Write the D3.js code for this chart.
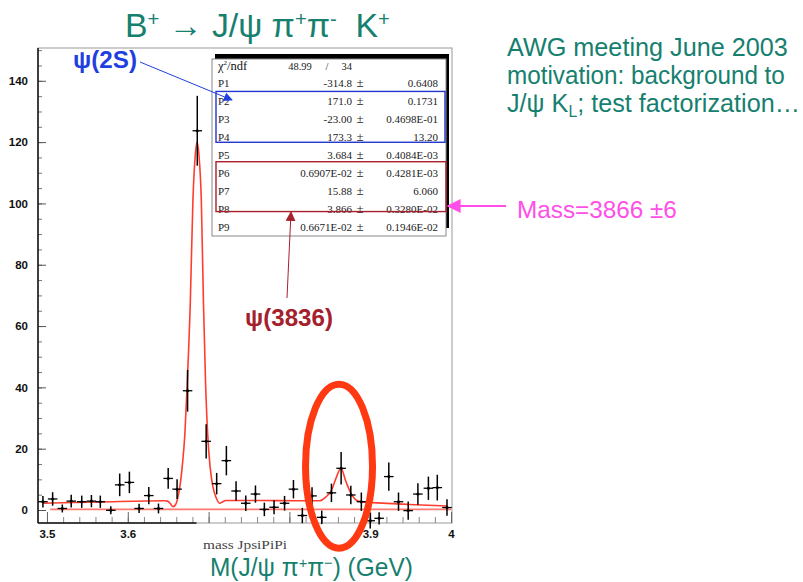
<!DOCTYPE html>
<html>
<head>
<meta charset="utf-8">
<script src="https://cdn.jsdelivr.net/npm/d3@7"></script>
<style>
body { margin: 0; background: #fff; }
svg { display: block; }
</style>
</head>
<body>
<div id="chart"></div>
<script>
// histogram: bin centre (GeV), entries, error
const massBins = [3.495, 3.507, 3.519, 3.530, 3.543, 3.555, 3.566, 3.579, 3.590, 3.602,
  3.614, 3.626, 3.638, 3.650, 3.661, 3.674, 3.686, 3.697, 3.710, 3.722,
  3.734, 3.746, 3.758, 3.769, 3.781, 3.794, 3.805, 3.816, 3.828, 3.840,
  3.852, 3.864, 3.876, 3.889, 3.900, 3.911, 3.923, 3.935, 3.947, 3.959,
  3.972, 3.983, 3.995];
const counts = [2.7, 3.6, 0.5, 2.9, 2.7, 2.9, 2.7, -0.1, 8.2, 9.0,
  0.5, 4.7, 0.5, 10.3, 6.8, 38.9, 123.7, 22.4, 8.6, 16.1,
  6.2, 2.2, 5.2, 0.2, 0.9, 2.2, 6.8, -1.8, 4.6, -2.4,
  5.6, 13.6, 4.9, 2.7, -3.5, -2.7, 10.9, 2.7, -0.2, 5.2,
  7.1, 7.3, 0.8];
const errors = [1.9, 2.2, 1.3, 2.1, 2.0, 2.0, 2.0, 1.3, 3.7, 3.5,
  1.5, 2.8, 1.6, 3.4, 3.2, 6.8, 11.4, 5.6, 3.5, 4.8,
  3.2, 2.5, 2.8, 2.2, 2.3, 2.4, 3.0, 2.5, 2.8, 2.2,
  3.0, 5.3, 3.0, 3.0, 2.5, 2.0, 4.6, 3.0, 3.0, 3.5,
  3.8, 4.2, 2.7];

// fitted curve
const fitMass = [3.4954, 3.565, 3.6457, 3.6494, 3.653, 3.6559, 3.6593, 3.6627, 3.6652, 3.6673,
  3.6707, 3.6735, 3.6774, 3.6806, 3.6833, 3.6858, 3.6883, 3.6910, 3.6936, 3.6963,
  3.6988, 3.7019, 3.7053, 3.7095, 3.7136, 3.7177, 3.721, 3.763, 3.8123, 3.837,
  3.8453, 3.8522, 3.8577, 3.8638, 3.870, 3.8762, 3.8823, 3.8905, 3.9028, 3.9481, 3.9954];
const fitValue = [2.2, 2.6, 3.0, 2.9, 2.0, 1.1, 1.8, 5, 9, 14,
  25, 41, 68, 101, 115, 120, 115, 101, 68, 41,
  25, 14, 7.6, 3.9, 2.2, 2.7, 3.1, 3.1, 3.0, 3.0,
  4.3, 6.5, 10.4, 13.6, 9.2, 5.4, 3.3, 2.6, 2.4, 1.8, 1.3];
const bkgMass = [3.504, 4.0];
const bkgValue = [0.23, 0.23];

const yMajorTicks = [0, 20, 40, 60, 80, 100, 120, 140];
const xMajorTicks = [3.5, 3.6, 3.7, 3.8, 3.9, 4.0];
const xTickLabels = {3.5: '3.5', 3.6: '3.6', 3.9: '3.9', 4: '4'};

// stats box
const statNames = ['P1', 'P2', 'P3', 'P4', 'P5', 'P6', 'P7', 'P8', 'P9'];
const statValues = ['-314.8', '171.0', '-23.00', '173.3', '3.684', '0.6907E-02', '15.88', '3.866', '0.6671E-02'];
const statErrors = ['0.6408', '0.1731', '0.4698E-01', '13.20', '0.4084E-03', '0.4281E-03', '6.060', '0.3280E-02', '0.1946E-02'];
const chi2 = '48.99', ndf = '34';

const width = 803, height = 582;
const teal = '#16806f';

const svg = d3.select('#chart')
.append('svg')
.attr('width', width)
.attr('height', height);

const defs = svg.append('defs');
function marker(id, color, size) {
	defs.append('marker')
	.attr('id', id)
	.attr('viewBox', '0 0 10 10')
	.attr('refX', 9).attr('refY', 5)
	.attr('markerUnits', 'userSpaceOnUse')
	.attr('markerWidth', size).attr('markerHeight', size)
	.attr('orient', 'auto')
	.append('path')
	.attr('d', 'M0,0L10,5L0,10z')
	.attr('fill', color);
}
marker('arBlue', '#2040e0', 9);
marker('arRed', '#a8202e', 10);
marker('arPink', '#ff4fe8', 14);

const x = d3.scaleLinear().domain([3.4889, 4.0012]).range([38, 452]);
const y = d3.scaleLinear().domain([-4.24, 150.7]).range([523, 48]);

// frame
svg.append('rect')
.attr('x', x.range()[0]).attr('y', y.range()[1])
.attr('width', x.range()[1] - x.range()[0])
.attr('height', y.range()[0] - y.range()[1])
.attr('fill', 'none').attr('stroke', '#999').attr('stroke-width', 1);

// y axis
svg.append('g')
.attr('transform', `translate(${x.range()[0]},0)`)
.call(d3.axisLeft(y).tickValues(d3.range(0, 151, 5)).tickSize(-4).tickFormat(''))
.call(g => g.select('.domain').remove())
.call(g => g.selectAll('line').attr('stroke', '#777'));

svg.append('g')
.attr('transform', `translate(${x.range()[0]},0)`)
.call(d3.axisLeft(y).tickValues(yMajorTicks).tickSize(-8).tickPadding(10))
.call(g => g.select('.domain').remove())
.call(g => g.selectAll('line').attr('stroke', '#555'))
.call(g => g.selectAll('text')
	.attr('font-family', 'Liberation Sans, Arial, sans-serif')
	.attr('font-weight', 'bold').attr('font-size', 11.5).attr('fill', '#111'));

// x axis
svg.append('g')
.attr('transform', `translate(0,${y.range()[0]})`)
.call(d3.axisBottom(x).tickValues(d3.range(3.5, 4.001, 0.02)).tickSize(-6).tickFormat(''))
.call(g => g.select('.domain').remove())
.call(g => g.selectAll('line').attr('stroke', '#888'));

svg.append('g')
.attr('transform', `translate(0,${y.range()[0]})`)
.call(d3.axisBottom(x).tickValues(xMajorTicks).tickSize(-11).tickPadding(7)
	.tickFormat(d => xTickLabels[+d.toFixed(1)] || ''))
.call(g => g.select('.domain').remove())
.call(g => g.selectAll('line').attr('stroke', '#666'))
.call(g => g.selectAll('text')
	.attr('font-family', 'Liberation Sans, Arial, sans-serif')
	.attr('font-weight', 'bold').attr('font-size', 11.5).attr('fill', '#111'));

// axis lines
svg.append('line')
.attr('x1', x.range()[0]).attr('x2', x.range()[0])
.attr('y1', y.range()[1]).attr('y2', y.range()[0])
.attr('stroke', '#111').attr('stroke-width', 1.5);
svg.append('line')
.attr('x1', x.range()[0]).attr('x2', x(3.685))
.attr('y1', y.range()[0]).attr('y2', y.range()[0])
.attr('stroke', '#111').attr('stroke-width', 1.6);

// background and fit curves
const line = d3.line().curve(d3.curveMonotoneX).x(d => x(d[0])).y(d => y(d[1]));

svg.append('path')
.attr('d', line(bkgMass.map((m, i) => [m, bkgValue[i]])))
.attr('fill', 'none').attr('stroke', '#ff7b70').attr('stroke-width', 1.8);

svg.append('path')
.attr('d', line(fitMass.map((m, i) => [m, fitValue[i]])))
.attr('fill', 'none').attr('stroke', '#ff3d2e').attr('stroke-width', 1.6);

// data points
const halfBin = 0.0059;
const pts = svg.append('g').attr('stroke', '#000');
massBins.forEach((m, i) => {
	pts.append('line')
	.attr('x1', x(m)).attr('x2', x(m))
	.attr('y1', y(counts[i] - errors[i])).attr('y2', y(counts[i] + errors[i]))
	.attr('stroke-width', 1.5);
	pts.append('line')
	.attr('x1', x(m - halfBin)).attr('x2', x(m + halfBin))
	.attr('y1', y(counts[i])).attr('y2', y(counts[i]))
	.attr('stroke-width', 1.3);
	pts.append('circle')
	.attr('cx', x(m)).attr('cy', y(counts[i])).attr('r', 1.5)
	.attr('fill', '#000').attr('stroke', 'none');
});

// stats box
const box = svg.append('g');
box.append('rect').attr('x', 215).attr('y', 54).attr('width', 234).attr('height', 174).attr('fill', '#000');
box.append('rect').attr('x', 212).attr('y', 59).attr('width', 234).attr('height', 177)
.attr('fill', '#fff').attr('stroke', '#888').attr('stroke-width', 1);

const rowY = d3.scaleLinear().domain([0, 9]).range([69.5, 231]);
const serif = 'Liberation Serif, Times New Roman, serif';

const chiT = box.append('text').attr('x', 218).attr('y', rowY(0))
.attr('font-family', serif).attr('font-size', 12.5).attr('fill', '#111');
chiT.append('tspan').text('χ');
chiT.append('tspan').attr('font-size', 7).attr('dy', -5).text('2');
chiT.append('tspan').attr('dy', 5).text('/ndf');
box.append('text').attr('x', 300).attr('y', rowY(0)).attr('text-anchor', 'middle')
.attr('font-family', serif).attr('font-size', 10.5).attr('fill', '#222').text(chi2);
box.append('text').attr('x', 327).attr('y', rowY(0)).attr('text-anchor', 'middle')
.attr('font-family', serif).attr('font-size', 10.5).attr('fill', '#222').text('/');
box.append('text').attr('x', 352).attr('y', rowY(0)).attr('text-anchor', 'end')
.attr('font-family', serif).attr('font-size', 10.5).attr('fill', '#222').text(ndf);

statNames.forEach((n, i) => {
	const g = box.append('g').attr('font-family', serif).attr('font-size', 11).attr('fill', '#222');
	g.append('text').attr('x', 218).attr('y', rowY(i + 1)).text(n);
	g.append('text').attr('x', 352).attr('y', rowY(i + 1)).attr('text-anchor', 'end').text(statValues[i]);
	g.append('text').attr('x', 360).attr('y', rowY(i + 1)).attr('text-anchor', 'middle').attr('font-size', 13).text('±');
	g.append('text').attr('x', 438).attr('y', rowY(i + 1)).attr('text-anchor', 'end').text(statErrors[i]);
});

box.append('rect')
.attr('x', 216).attr('y', rowY(1) + 4).attr('width', 229).attr('height', rowY(4) - rowY(1) - 3)
.attr('fill', 'none').attr('stroke', '#2236d0').attr('stroke-width', 1.4);
box.append('rect')
.attr('x', 216).attr('y', rowY(5) + 2.5).attr('width', 230).attr('height', rowY(8) - rowY(5) - 4)
.attr('fill', 'none').attr('stroke', '#a8202e').attr('stroke-width', 1.4);

// text helper: parts are [string, 'sup' | 'sub' | null]
function label(xp, yp, w, parts, size, color, extra) {
	const t = svg.append('text')
	.attr('x', 0).attr('y', 0)
	.attr('font-family', 'Liberation Sans, Arial, sans-serif')
	.attr('font-size', size).attr('fill', color)
	.style('white-space', 'pre');
	if (extra) extra(t);
	let shift = 0;
	parts.forEach(([s, kind]) => {
		const sp = t.append('tspan').text(s);
		let target = 0;
		if (kind === 'sup') { target = -size * 0.32; sp.attr('font-size', size * 0.6); }
		if (kind === 'sub') { target = size * 0.22; sp.attr('font-size', size * 0.62); }
		if (target !== shift) { sp.attr('dy', target - shift); shift = target; }
	});
	const bw = t.node().getComputedTextLength();
	t.attr('transform', `translate(${xp},${yp}) scale(${w / bw},1)`);
	return t;
}

label(125, 37, 265, [['B', null], ['+', 'sup'], [' → J/ψ π', null], ['+', 'sup'], ['π', null], ['-', 'sup'], ['  K', null], ['+', 'sup']], 34, teal);

label(507, 55.5, 281, [['AWG meeting June 2003', null]], 26, teal);
label(507, 83.5, 278, [['motivation: background to', null]], 26, teal);
label(507, 111.5, 293, [['J/ψ K', null], ['L', 'sub'], ['; test factorization…', null]], 26, teal);

label(210, 576, 203, [['M(J/ψ π', null], ['+', 'sup'], ['π', null], ['−', 'sup'], [') (GeV)', null]], 25, teal);

label(203, 549, 84, [['mass JpsiPiPi', null]], 11.5, '#444', t => t.attr('font-family', serif));

// annotations
svg.append('line')
.attr('x1', 140).attr('y1', 62).attr('x2', 232).attr('y2', 100)
.attr('stroke', '#2040e0').attr('stroke-width', 1).attr('marker-end', 'url(#arBlue)');
label(73, 68, 64, [['ψ(2S)', null]], 24, '#1f3fe0', t => t.attr('font-weight', 'bold'));

svg.append('line')
.attr('x1', 287).attr('y1', 298).attr('x2', 291).attr('y2', 212)
.attr('stroke', '#a8202e').attr('stroke-width', 1).attr('marker-end', 'url(#arRed)');
label(245, 326, 88, [['ψ(3836)', null]], 24, '#a3202c', t => t.attr('font-weight', 'bold'));

svg.append('line')
.attr('x1', 506).attr('y1', 206).attr('x2', 448).attr('y2', 206)
.attr('stroke', '#ff4fe8').attr('stroke-width', 2.2).attr('marker-end', 'url(#arPink)');
label(517, 218, 160, [['Mass=3866 ±6', null]], 24, '#ff4fe8');

// highlight ellipse around the second peak
svg.append('ellipse')
.attr('cx', x(3.8614)).attr('cy', y(14.3))
.attr('rx', 33.5).attr('ry', 82)
.attr('fill', 'none').attr('stroke', '#ff3a12').attr('stroke-width', 7);
</script>
</body>
</html>
